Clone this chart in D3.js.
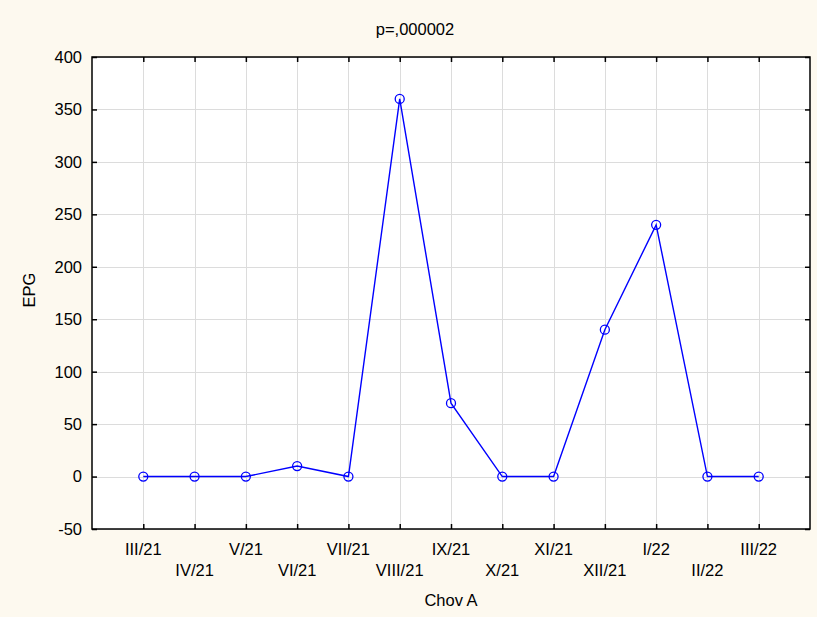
<!DOCTYPE html>
<html><head><meta charset="utf-8">
<script src="https://cdn.jsdelivr.net/npm/d3@7"></script>
<style>body{margin:0;background:#fdf9ef;}svg{display:block;}</style>
</head><body>
<svg id="c" width="817" height="617"></svg>
<script>
const categories = ["III/21","IV/21","V/21","VI/21","VII/21","VIII/21","IX/21","X/21","XI/21","XII/21","I/22","II/22","III/22"];
const values = [0,0,0,10,0,360,70,0,0,140,240,0,0];
const yTicks = [-50,0,50,100,150,200,250,300,350,400];
const title = "p=,000002";
const xTitle = "Chov A";
const yTitle = "EPG";

const svg = d3.select("#c");
const W=817,H=617;
const m={l:92,r:810,t:57,b:529};
svg.append("rect").attr("width",W).attr("height",H).attr("fill","#fdf9ef");
svg.append("rect").attr("x",m.l).attr("y",m.t).attr("width",m.r-m.l).attr("height",m.b-m.t).attr("fill","#fff");
const x=d3.scaleLinear().domain([-1,categories.length]).range([m.l,m.r]);
const y=d3.scaleLinear().domain([-50,400]).range([m.b,m.t]);
const font="Liberation Sans, Arial, sans-serif";
const fs=16.5;
// grid
const g=svg.append("g");
g.selectAll(".gx").data(categories).enter().append("line")
 .attr("x1",(d,i)=>Math.round(x(i))+0.5).attr("x2",(d,i)=>Math.round(x(i))+0.5).attr("y1",m.t).attr("y2",m.b)
 .attr("stroke","#dcdcdc").attr("stroke-width",1);
g.selectAll(".gy").data(yTicks).enter().append("line")
 .attr("x1",m.l).attr("x2",m.r).attr("y1",d=>Math.round(y(d))+0.5).attr("y2",d=>Math.round(y(d))+0.5)
 .attr("stroke","#dcdcdc").attr("stroke-width",1);
// axes
const idx=d3.range(categories.length);
svg.append("g").attr("transform",`translate(0,${m.b})`)
 .call(d3.axisTop(x).tickValues(idx).tickSize(5).tickFormat(""))
 .call(a=>a.select(".domain").remove());
svg.append("g").attr("transform",`translate(0,${m.t})`)
 .call(d3.axisBottom(x).tickValues(idx).tickSize(5).tickFormat(""))
 .call(a=>a.select(".domain").remove());
svg.append("g").attr("transform",`translate(${m.l},0)`)
 .call(d3.axisRight(y).tickValues(yTicks).tickSize(5).tickFormat(""))
 .call(a=>a.select(".domain").remove());
svg.append("g").attr("transform",`translate(${m.r},0)`)
 .call(d3.axisLeft(y).tickValues(yTicks).tickSize(5).tickFormat(""))
 .call(a=>a.select(".domain").remove());
svg.selectAll(".tick line").attr("stroke","#000").attr("stroke-width",1.5);
svg.append("rect").attr("x",m.l).attr("y",m.t).attr("width",m.r-m.l).attr("height",m.b-m.t)
 .attr("fill","none").attr("stroke","#000").attr("stroke-width",1.5);
// y labels
svg.selectAll(".yl").data(yTicks).enter().append("text")
 .attr("x",m.l-10).attr("y",d=>y(d)).attr("dy","0.36em").attr("text-anchor","end")
 .attr("font-family",font).attr("font-size",fs).text(d=>d);
// x labels
svg.selectAll(".xl").data(categories).enter().append("text")
 .attr("x",(d,i)=>x(i)).attr("y",(d,i)=>i%2===0?555:576).attr("text-anchor","middle")
 .attr("font-family",font).attr("font-size",fs).text(d=>d);
svg.append("text").attr("x",415).attr("y",35).attr("text-anchor","middle")
 .attr("font-family",font).attr("font-size",fs).text(title);
svg.append("text").attr("x",(m.l+m.r)/2).attr("y",606).attr("text-anchor","middle")
 .attr("font-family",font).attr("font-size",fs).text(xTitle);
svg.append("text").attr("transform",`translate(35,290) rotate(-90)`).attr("text-anchor","middle")
 .attr("font-family",font).attr("font-size",fs).text(yTitle);
// line
svg.append("path").datum(values).attr("fill","none").attr("stroke","#0000ff").attr("stroke-width",1.4)
 .attr("d",d3.line().x((d,i)=>x(i)).y(d=>y(d)));
svg.selectAll(".pt").data(values).enter().append("circle")
 .attr("cx",(d,i)=>x(i)).attr("cy",d=>y(d)).attr("r",4.5)
 .attr("fill","none").attr("stroke","#0000ff").attr("stroke-width",1.3);
</script>
</body></html>
